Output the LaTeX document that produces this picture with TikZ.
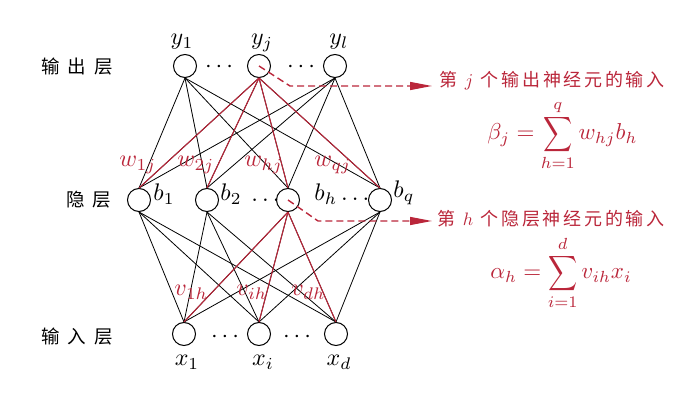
\documentclass[tikz,border=0pt]{standalone}
\usepackage{fontspec}
\usepackage{graphicx}
\newfontfamily\cjk{Noto Sans CJK SC}
\usetikzlibrary{arrows.meta}
\definecolor{myred}{RGB}{186,38,58}
\newcommand\cgap{\hspace{0.15em}}
\newcommand\lgap{\hspace{0.42em}}
\newcommand\tallsum{\mathop{\vcenter{\hbox{\scalebox{0.88}[1.06]{$\displaystyle\sum$}}}}\limits}
\begin{document}
\begin{tikzpicture}[x=1pt,y=-1pt,
  neuron/.style={circle,draw,minimum size=23pt,inner sep=0pt,line width=1pt},
  lbl/.style={scale=2.4,inner sep=0pt},
  edge/.style={line width=0.8pt},
  redge/.style={line width=1.05pt,draw=myred},
  wlbl/.style={scale=2.4,inner sep=0pt,text=myred,anchor=base west},
  layer/.style={scale=1.85,inner sep=0pt},
  note/.style={scale=1.8,inner sep=0pt,text=myred,anchor=west},
  formula/.style={scale=2.3,inner sep=0pt,text=myred,anchor=base west},
  pointer/.style={draw=myred,dash pattern=on 7pt off 4pt,line width=1.4pt,
    -{Triangle[length=22pt,width=8pt,fill=myred]}}]
\useasboundingbox (0,0) rectangle (693,419);

% neurons
\node[neuron] (y1) at (185,66) {};
\node[neuron] (yj) at (259,66) {};
\node[neuron] (yl) at (335,66) {};
\node[neuron] (b1) at (139,200) {};
\node[neuron] (b2) at (207,200) {};
\node[neuron] (bh) at (288,200) {};
\node[neuron] (bq) at (380,200) {};
\node[neuron] (x1) at (184,334) {};
\node[neuron] (xi) at (259,334) {};
\node[neuron] (xd) at (336,334) {};

% connections
\foreach \o in {y1,yj,yl}
  \foreach \h in {b1,b2,bh,bq}
    \draw[edge] (\o.south) -- (\h.north);
\foreach \h in {b1,b2,bh,bq}
  \foreach \i in {x1,xi,xd}
    \draw[edge] (\h.south) -- (\i.north);
\foreach \h in {b1,b2,bh,bq}
  \draw[redge] (yj.south) -- (\h.north);
\foreach \i in {x1,xi,xd}
  \draw[redge] (bh.south) -- (\i.north);

% node labels
\node[lbl,anchor=base] (ly1) at (182,45) {$y_1$};
\node[lbl,anchor=base] (lyj) at (262,45) {$y_j$};
\node[lbl,anchor=base] (lyl) at (339,45) {$y_l$};
\node[lbl] (d1) at (219,67) {$\cdots$};
\node[lbl] (d2) at (301,67) {$\cdots$};

\node[lbl,anchor=base west] (lb1) at (153,201) {$b_1$};
\node[lbl,anchor=base west] (lb2) at (220,201) {$b_2$};
\node[lbl,anchor=base west] (d3) at (251,202) {$\ldots$};
\node[lbl,anchor=base west] (lbh) at (314,201) {$b_h\ldots$};
\node[lbl,anchor=base west] (lbq) at (393,198) {$b_q$};

\node[lbl,anchor=base] (lx1) at (187,366) {$x_1$};
\node[lbl,anchor=base] (lxi) at (263,366) {$x_i$};
\node[lbl,anchor=base] (lxd) at (339,366) {$x_d$};
\node[lbl] (d4) at (225,337) {$\cdots$};
\node[lbl] (d5) at (297,337) {$\cdots$};

% weights
\node[wlbl] (w1) at (119,167) {$w_{1j}$};
\node[wlbl] (w2) at (177,167) {$w_{2j}$};
\node[wlbl] (wh) at (244,167) {$w_{hj}$};
\node[wlbl] (wq) at (314,167) {$w_{qj}$};
\node[wlbl] (v1) at (174,296) {$v_{1h}$};
\node[wlbl] (vi) at (236,296) {$v_{ih}$};
\node[wlbl] (vd) at (291,296) {$v_{dh}$};

% layer labels
\node[layer] (lo) at (77,67) {\cjk 输\lgap 出\lgap 层};
\node[layer] (lh) at (89,200) {\cjk 隐\lgap 层};
\node[layer] (li) at (77,337) {\cjk 输\lgap 入\lgap 层};

% notes
\node[note] (n1) at (439,81) {\cjk 第\lgap$j$\lgap 个\cgap 输\cgap 出\cgap 神\cgap 经\cgap 元\cgap 的\cgap 输\cgap 入};
\node[note] (n2) at (437,219) {\cjk 第\lgap$h$\lgap 个\cgap 隐\cgap 层\cgap 神\cgap 经\cgap 元\cgap 的\cgap 输\cgap 入};
\node[formula] (f1) at (487,140) {$\beta_j=\tallsum_{h=1}^{q}w_{hj}b_h$};
\node[formula] (f2) at (490,279) {$\alpha_h=\tallsum_{i=1}^{d}v_{ih}x_i$};

% pointers
\coordinate (p1) at (290,86);
\coordinate (p2) at (318,221);
\draw[pointer] (yj.center) -- (p1) -- (p1 -| 432,0);
\draw[pointer] (bh.center) -- (p2) -- (p2 -| 432,0);
\end{tikzpicture}
\end{document}
